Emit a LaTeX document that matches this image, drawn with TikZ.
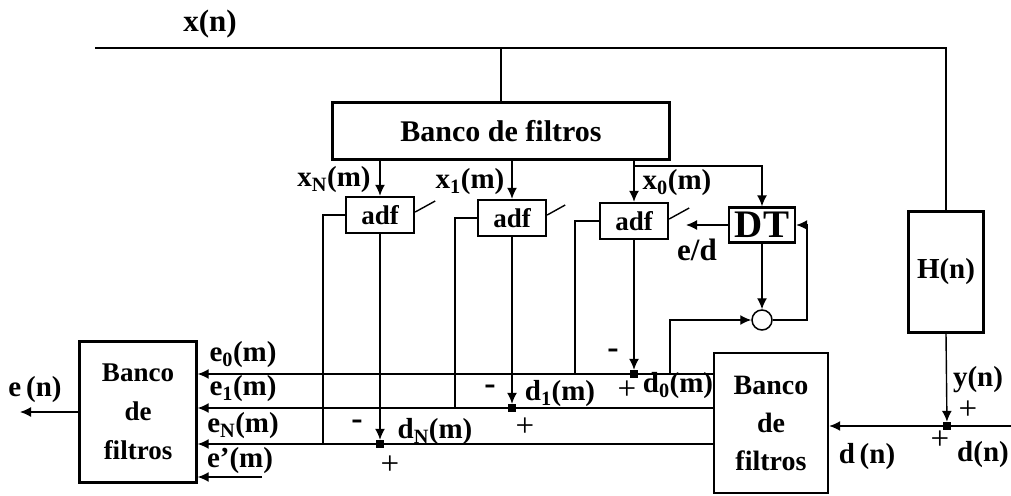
\documentclass[tikz,border=0pt]{standalone}
\usepackage{fontspec}
\setmainfont{Liberation Serif}
\usetikzlibrary{arrows.meta}
\begin{document}
\begin{tikzpicture}[x=1pt,y=-1pt,
  box/.style={draw, line width=2.4pt, inner sep=0pt, align=center},
  bank/.style={box, font=\bfseries\fontsize{27}{39}\selectfont},
  conn/.style={line width=1.4pt},
  arr/.style={conn, -{Latex[length=11pt,width=10pt]}},
  lbl/.style={font=\bfseries\fontsize{29}{30}\selectfont, inner sep=0pt},
  sgn/.style={font=\fontsize{33}{34}\selectfont, inner sep=0pt},
  mns/.style={font=\bfseries\fontsize{34}{34}\selectfont, inner sep=0pt},
  jdot/.style={fill, minimum size=8pt, inner sep=0pt}]
\useasboundingbox (0,0) rectangle (1011,495);

% nodes
\node[lbl, font=\bfseries\fontsize{31}{31}\selectfont] (xn) at (210,24) {x(n)};
\coordinate (tl) at (95,48);
\node[box, minimum width=337pt, minimum height=57pt, font=\bfseries\fontsize{30}{30}\selectfont] (bt) at (501,131) {Banco de filtros};
\node[box, minimum width=68pt, minimum height=36pt, font=\bfseries\fontsize{27}{28}\selectfont] (aN) at (380,215) {adf};
\node[box, minimum width=68pt, minimum height=36pt, font=\bfseries\fontsize{27}{28}\selectfont] (a1) at (512,218) {adf};
\node[box, minimum width=68pt, minimum height=36pt, font=\bfseries\fontsize{27}{28}\selectfont] (a0) at (634,221) {adf};
\node[box, minimum width=66pt, minimum height=35pt, font=\bfseries\fontsize{39}{39}\selectfont] (dt) at (762,225) {DT};
\node[circle, draw, line width=1.5pt, minimum size=20pt, inner sep=0pt] (sum) at (762,320) {};
\node[box, minimum width=75pt, minimum height=121pt, font=\bfseries\fontsize{29}{30}\selectfont] (h) at (946,272) {H(n)};
\node[bank, minimum width=117pt, minimum height=141pt] (b1) at (138,412) {Banco\\de\\filtros};
\node[bank, minimum width=114pt, minimum height=140pt, font=\bfseries\fontsize{28}{38}\selectfont] (b2) at (771,423) {Banco\\de\\filtros};

\node[jdot] (j0) at (634,374) {};
\node[jdot] (j1) at (512,408) {};
\node[jdot] (jN) at (380,444) {};
\node[jdot] (jd) at (947,426) {};

\coordinate (br) at (634,166);
\coordinate (edend) at (686,225);
\coordinate (fb) at (807,320);
\coordinate (cf) at (670,374);
\coordinate (fN) at (323,444);
\coordinate (f1) at (455,408);
\coordinate (f0) at (575,374);
\coordinate (ep) at (262,477);
\coordinate (en) at (20,412);
\coordinate (dr) at (1011,426);

% connectors
\draw[conn] (tl) -- (tl -| h.north) -- (h.north);
\draw[conn] (bt.north) -- (bt.north |- tl);
\draw[arr] (bt.south -| aN.north) -- (aN.north);
\draw[arr] (bt.south -| a1.north) -- (a1.north);
\draw[arr] (bt.south -| a0.north) -- (a0.north);
\draw[arr] (br) -- (br -| dt.north) -- (dt.north);
\draw[arr] (dt.west) -- (edend);
\draw[arr] (dt.south) -- (sum.north);
\draw[arr] (sum.east) -- (fb) |- (dt.east);
\draw[arr] (cf) |- (sum.west);

\draw[arr] (a0.south) -- (j0);
\draw[arr] (a1.south) -- (j1);
\draw[arr] (aN.south) -- (jN);
\draw[arr] (h.south) -- (jd);

\draw[arr] (b2.west |- j0) -- (b1.east |- j0);
\draw[arr] (b2.west |- j1) -- (b1.east |- j1);
\draw[arr] (b2.west |- jN) -- (b1.east |- jN);
\draw[arr] (ep) -- (b1.east |- ep);
\draw[arr] (b1.west |- en) -- (en);
\draw[conn] (dr) -- (jd);
\draw[arr] (jd) -- (b2.east |- jd);

\draw[conn] (aN.west) -| (fN);
\draw[conn] (a1.west) -| (f1);
\draw[conn] (a0.west) -| (f0);

% switches
\draw[conn] ([yshift=3pt]aN.east) -- ++(20,-11);
\draw[conn] ([yshift=3pt]a1.east) -- ++(18,-10);
\draw[conn] ([yshift=2pt]a0.east) -- ++(20,-11);

% labels
\node[lbl] (lxN) at (334,180) {x\textsubscript{N}(m)};
\node[lbl] (lx1) at (470,182) {x\textsubscript{1}(m)};
\node[lbl] (lx0) at (677,183) {x\textsubscript{0}(m)};
\node[lbl, font=\bfseries\fontsize{31}{31}\selectfont] (led) at (697,250) {e/d};
\node[lbl] (le0) at (243,355) {e\textsubscript{0}(m)};
\node[lbl] (le1) at (243,389) {e\textsubscript{1}(m)};
\node[lbl] (leN) at (243,426) {e\textsubscript{N}(m)};
\node[lbl] (lep) at (240,461) {e'(m)};
\node[lbl] (ld0) at (678,386) {d\textsubscript{0}(m)};
\node[lbl] (ld1) at (560,394) {d\textsubscript{1}(m)};
\node[lbl] (ldN) at (435,432) {d\textsubscript{N}(m)};
\node[lbl, font=\bfseries\fontsize{29}{30}\selectfont] (len) at (35,390) {e\,(n)};
\node[lbl, font=\bfseries\fontsize{29}{30}\selectfont] (ldn) at (867,457) {d\,(n)};
\node[lbl, font=\bfseries\fontsize{29}{30}\selectfont] (lyn) at (978,380) {y(n)};
\node[lbl, font=\bfseries\fontsize{29}{30}\selectfont] (ldn2) at (983,455) {d(n)};

\node[mns] (m0) at (613,354) {-};
\node[sgn] (p0) at (627,390) {+};
\node[mns] (m1) at (490,390) {-};
\node[sgn] (p1) at (525,427) {+};
\node[mns] (mN) at (357,425) {-};
\node[sgn] (pN) at (390,465) {+};
\node[sgn] (py) at (968,410) {+};
\node[sgn] (pd) at (940,440) {+};
\end{tikzpicture}
\end{document}
